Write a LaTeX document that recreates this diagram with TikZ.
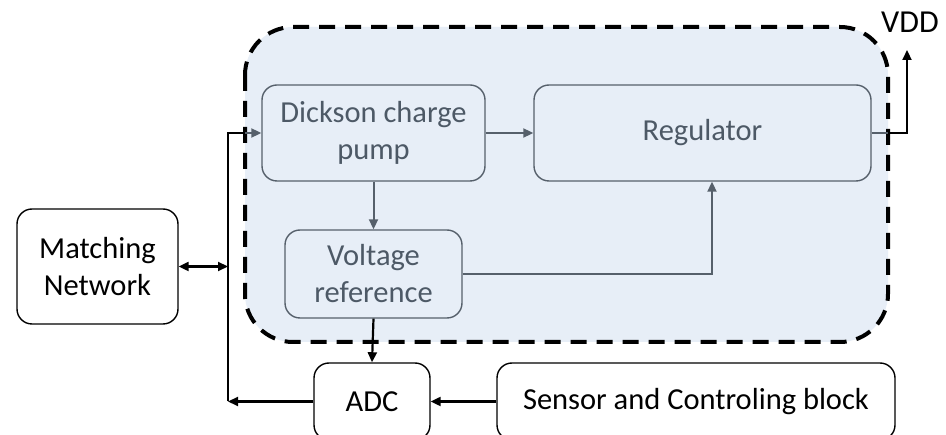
\documentclass[tikz,border=0pt]{standalone}
\usepackage{fontspec}
\setmainfont{Carlito}
\usetikzlibrary{arrows.meta}
\definecolor{cfill}{RGB}{231,238,247}
\definecolor{gline}{RGB}{86,96,107}
\definecolor{gtext}{RGB}{77,89,102}
\tikzset{
  inbox/.style={draw=gline, line width=1.4pt, rounded corners=15pt, fill=cfill, text=gtext, align=center, font=\fontsize{30.5}{37}\selectfont},
  outbox/.style={draw=black, line width=1.4pt, rounded corners=15pt, fill=white, text=black, align=center, font=\fontsize{30.5}{37}\selectfont},
  garrow/.style={draw=gline, line width=2pt, -{Triangle[length=10pt,width=9pt]}},
  barrow/.style={draw=black, line width=2.2pt, -{Triangle[length=10pt,width=9pt]}},
  bdarrow/.style={draw=black, line width=2.2pt, {Triangle[length=10pt,width=9pt]}-{Triangle[length=10pt,width=9pt]}},
}
\begin{document}
\begin{tikzpicture}[x=1pt,y=-1pt]
\useasboundingbox (0,0) rectangle (946,435);
\fill[white] (0,0) rectangle (946,435);
\clip (0,0) rectangle (946,435);
% container
\draw[fill=cfill, draw=black, line width=4pt, dash pattern=on 16pt off 10pt, rounded corners=48pt] (245,27) rectangle (888,342);
% inner blocks
\node[inbox, minimum width=223pt, minimum height=96pt] (dick) at (373.5,133) {Dickson charge\\pump};
\node[inbox, minimum width=337pt, minimum height=96pt] (reg) at (702.5,133) {Regulator};
\node[inbox, minimum width=177pt, minimum height=88pt] (vref) at (373.5,274) {Voltage\\reference};
% outer blocks
\node[outbox, minimum width=161pt, minimum height=115pt] (match) at (97.5,266.5) {Matching\\Network};
\node[outbox, minimum width=116pt, minimum height=77pt] (adc) at (372,401.5) {ADC};
\node[outbox, minimum width=398pt, minimum height=77pt] (sens) at (696,401.5) {Sensor and Controling block};
% junction coordinates
\coordinate (j1) at (228,401.5);
\coordinate (j2) at (228,133);
\coordinate (jm) at (228,266.5);
\coordinate (v1) at (907,133);
\coordinate (v2) at (907,50);
\coordinate (rv) at (712,274);
\coordinate (db) at (245,133);
\coordinate (rb) at (888,133);
% connectors
\draw[garrow] (dick.east) -- (reg.west);
\draw[garrow] (dick.south) -- (vref.north);
\draw[garrow] (vref.east) -- (rv) -- (rv |- reg.south);
\draw[barrow] (vref.south) -- (adc.north);
\draw[barrow] (sens.west) -- (adc.east);
\draw[barrow] (adc.west) -- (j1);
\draw[black, line width=2.2pt] (j1) -- (j2) -- (db);
\draw[garrow] (db) -- (dick.west);
\draw[bdarrow] (match.east) -- (jm);
\draw[gline, line width=2pt] (reg.east) -- (rb);
\draw[barrow] (rb) -- (v1) -- (v2);
\node[font=\fontsize{32}{36}\selectfont, text=black] (vdd) at (910,22) {VDD};
\end{tikzpicture}
\end{document}
